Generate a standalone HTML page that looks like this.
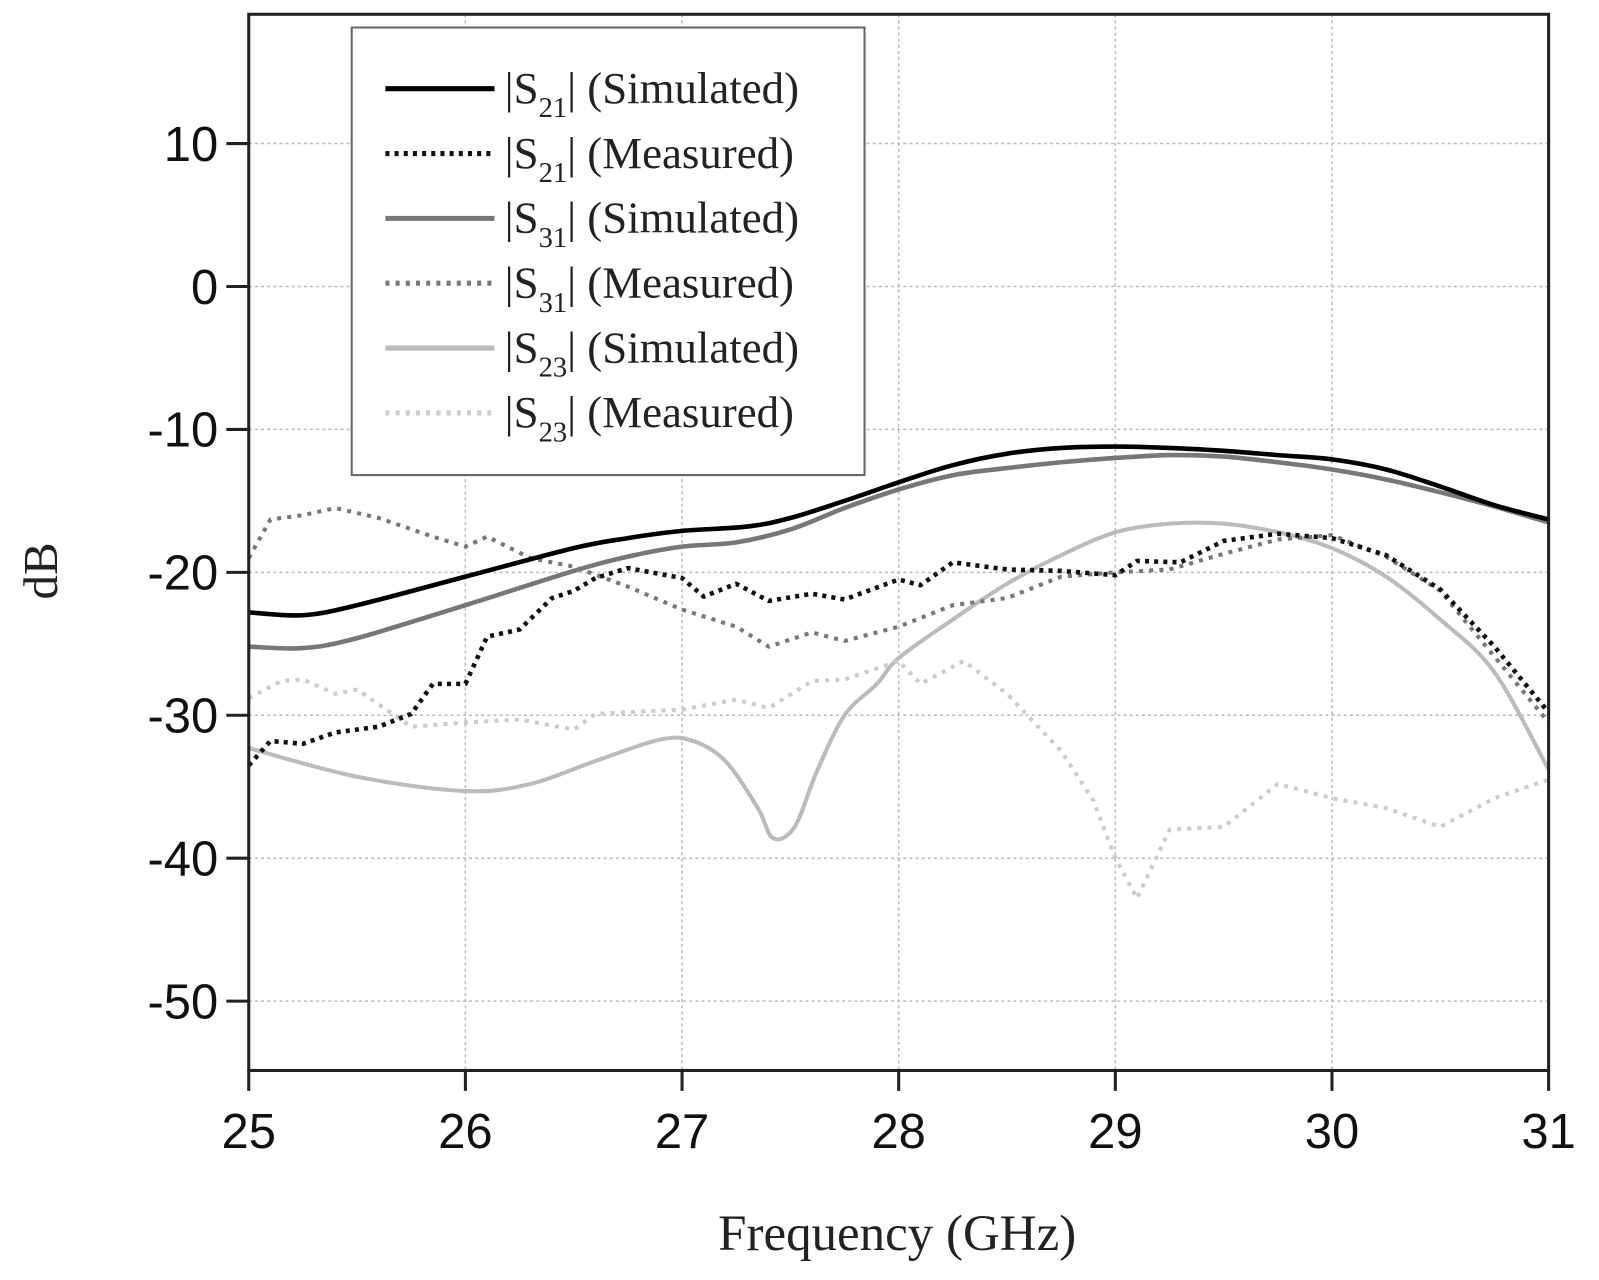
<!DOCTYPE html>
<html><head><meta charset="utf-8"><style>
html,body{margin:0;padding:0;background:#fff;}
svg{display:block;}
.t{font-family:"Liberation Sans",Arial,sans-serif;font-size:48px;fill:#111;}
.s{font-family:"Liberation Serif",serif;fill:#222;}
</style></head><body>
<svg id="c" width="1599" height="1280" viewBox="0 0 1599 1280" xmlns="http://www.w3.org/2000/svg">
<rect width="1599" height="1280" fill="#fff"/>
<g transform="scale(1.0195)">
<g id="grid" stroke="#bbb" stroke-width="1.5" stroke-dasharray="3,3"></g>
<g id="data" fill="none" stroke-linejoin="round"></g>
<rect x="244" y="14" width="1275" height="1036" fill="none" stroke="#222" stroke-width="3"/>
<g id="ticks" stroke="#222" stroke-width="3"></g>
<g id="labels"></g>
<g>
<rect x="345" y="27" width="503" height="439" fill="#fff" stroke="#666" stroke-width="2"/>
<g id="leg"></g>
</g>
<text class="s" x="880" y="1226" font-size="50" text-anchor="middle">Frequency (GHz)</text>
<text class="s" x="0" y="0" font-size="48" text-anchor="middle" transform="translate(56,560) rotate(-90)">dB</text>
</g>
</svg>
<script>
const NS="http://www.w3.org/2000/svg";
function X(g){return 244+(g-25)*212.5;}
function Y(v){return 281-v*14.02;}
function el(p,tag,a,txt){const e=document.createElementNS(NS,tag);for(const k in a)e.setAttribute(k,a[k]);if(txt!=null)e.textContent=txt;p.appendChild(e);return e;}
const grid=document.getElementById('grid'),ticks=document.getElementById('ticks'),labels=document.getElementById('labels');
for(let g=26;g<=30;g++){el(grid,'line',{x1:X(g),x2:X(g),y1:14,y2:1050});}
for(let v=10;v>=-50;v-=10){el(grid,'line',{x1:244,x2:1519,y1:Y(v),y2:Y(v)});
 el(ticks,'line',{x1:222,x2:244,y1:Y(v),y2:Y(v)});
 el(labels,'text',{class:'t',x:214,y:Y(v)+17,'text-anchor':'end'},String(v));}
for(let g=25;g<=31;g++){el(ticks,'line',{x1:X(g),x2:X(g),y1:1050,y2:1070});
 el(labels,'text',{class:'t',x:X(g),y:1126,'text-anchor':'middle'},String(g));}
const S=[
{c:'#bbb',w:4,d:null,sm:1,p:[[25,-32.3],[25.5,-34.3],[26,-35.3],[26.3,-34.8],[26.6,-33.2],[26.9,-31.7],[27.05,-31.8],[27.2,-33.2],[27.35,-36.5],[27.42,-38.6],[27.52,-37.8],[27.62,-34],[27.75,-30],[27.9,-27.8],[28,-26],[28.25,-23.3],[28.5,-20.8],[28.75,-18.8],[29,-17.2],[29.25,-16.6],[29.5,-16.6],[29.75,-17.2],[30,-18.3],[30.25,-20.3],[30.5,-23.3],[30.75,-27],[31,-33.8]]},
{c:'#ccc',w:4,d:'4,6',p:[[25,-28.8],[25.15,-27.6],[25.25,-27.5],[25.4,-28.5],[25.5,-28.2],[25.75,-30.8],[26,-30.5],[26.25,-30.3],[26.5,-31],[26.6,-29.9],[27,-29.6],[27.25,-28.9],[27.4,-29.5],[27.6,-27.6],[27.75,-27.5],[28,-26.2],[28.1,-27.8],[28.3,-26.2],[28.5,-28.5],[28.75,-32.5],[28.9,-36],[29,-40],[29.1,-42.8],[29.25,-38],[29.5,-37.8],[29.75,-34.8],[30,-35.8],[30.25,-36.5],[30.5,-37.8],[30.75,-35.8],[31,-34.5]]},
{c:'#777',w:4,d:'4,6',p:[[25,-19],[25.1,-16.3],[25.25,-16],[25.4,-15.5],[25.6,-16.2],[25.85,-17.5],[26,-18.2],[26.1,-17.5],[26.3,-19],[26.5,-19.6],[26.75,-21],[27,-22.6],[27.25,-23.8],[27.4,-25.2],[27.6,-24.2],[27.75,-24.8],[28,-23.8],[28.25,-22.3],[28.5,-21.8],[28.75,-20.3],[29,-20],[29.25,-19.8],[29.5,-18.7],[29.75,-17.7],[30,-17.4],[30.25,-18.9],[30.5,-21.3],[30.75,-25.9],[31,-30.5]]},
{c:'#111',w:4.5,d:'4,5',p:[[25,-33.5],[25.1,-31.8],[25.25,-32],[25.4,-31.2],[25.6,-30.8],[25.75,-29.9],[25.85,-27.8],[26,-27.8],[26.1,-24.5],[26.25,-24],[26.4,-21.8],[26.5,-21.3],[26.6,-20.4],[26.75,-19.7],[27,-20.4],[27.1,-21.7],[27.25,-20.8],[27.4,-22],[27.6,-21.5],[27.75,-21.9],[28,-20.5],[28.1,-20.9],[28.25,-19.3],[28.5,-19.8],[28.75,-19.9],[29,-20.2],[29.1,-19.2],[29.3,-19.3],[29.5,-17.8],[29.75,-17.3],[30,-17.6],[30.25,-18.8],[30.5,-21.2],[30.75,-25.2],[31,-29.8]]},
{c:'#777',w:4.5,d:null,sm:1,p:[[25,-25.2],[25.25,-25.3],[25.5,-24.6],[26,-22.3],[26.5,-19.9],[26.75,-18.9],[27,-18.2],[27.25,-17.9],[27.5,-17],[27.75,-15.5],[28,-14.2],[28.25,-13.2],[28.5,-12.7],[28.75,-12.3],[29,-12],[29.25,-11.8],[29.5,-11.9],[29.75,-12.3],[30,-12.8],[30.25,-13.5],[30.5,-14.4],[30.75,-15.4],[31,-16.5]]},
{c:'#000',w:4.5,d:null,sm:1,p:[[25,-22.8],[25.25,-23],[25.5,-22.3],[26,-20.3],[26.5,-18.3],[26.75,-17.6],[27,-17.1],[27.3,-16.8],[27.5,-16.2],[27.75,-15],[28,-13.7],[28.25,-12.5],[28.5,-11.7],[28.75,-11.3],[29,-11.2],[29.25,-11.3],[29.5,-11.5],[29.75,-11.8],[30,-12.1],[30.25,-12.8],[30.5,-14],[30.75,-15.3],[31,-16.3]]}
];
function smooth(P){let d='M'+P[0][0].toFixed(1)+','+P[0][1].toFixed(1);
 for(let i=0;i<P.length-1;i++){const p0=P[i-1]||P[i],p1=P[i],p2=P[i+1],p3=P[i+2]||P[i+1];
  const c1=[p1[0]+(p2[0]-p0[0])/6,p1[1]+(p2[1]-p0[1])/6],c2=[p2[0]-(p3[0]-p1[0])/6,p2[1]-(p3[1]-p1[1])/6];
  d+=' C'+c1.map(v=>v.toFixed(1))+' '+c2.map(v=>v.toFixed(1))+' '+p2.map(v=>v.toFixed(1));}
 return d;}
const data=document.getElementById('data');
S.forEach(s=>{const P=s.p.map(q=>[X(q[0]),Y(q[1])]);const a={d:s.sm?smooth(P):'M'+P.map(q=>q[0].toFixed(1)+','+q[1].toFixed(1)).join(' L'),stroke:s.c,'stroke-width':s.w};if(s.d)a['stroke-dasharray']=s.d;el(data,'path',a);});
const L=[['#000',null,'21','Simulated'],['#111','4,5','21','Measured'],['#777',null,'31','Simulated'],['#777','4,6','31','Measured'],['#bbb',null,'23','Simulated'],['#ccc','4,6','23','Measured']];
const leg=document.getElementById('leg');
L.forEach((l,i)=>{const y=87+i*63.6;const a={x1:378,x2:485,y1:y,y2:y,stroke:l[0],'stroke-width':5};if(l[1])a['stroke-dasharray']=l[1];el(leg,'line',a);
 const t=el(leg,'text',{class:'s',x:495,y:y+14,'font-size':44});
 t.appendChild(document.createTextNode('|S'));
 el(t,'tspan',{'font-size':28,dy:14},l[2]);
 el(t,'tspan',{dy:-14},'| ('+l[3]+')');});
</script>
</body></html>
